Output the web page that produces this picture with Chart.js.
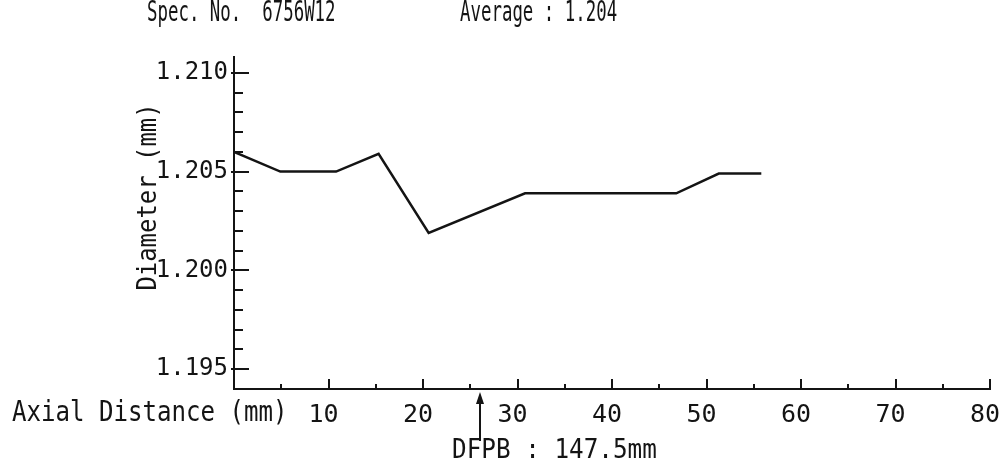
<!DOCTYPE html>
<html><head><meta charset="utf-8">
<script src="https://cdn.jsdelivr.net/npm/chart.js@4.4.1/dist/chart.umd.min.js"></script>
<style>html,body{margin:0;padding:0;background:#fff;}#wrap{position:relative;width:1001px;height:470px;}</style>
</head><body><div id="wrap"><canvas id="c" width="1001" height="470"></canvas></div>
<script>
// ---- data ----
const axialDistance = [0, 4.9, 10.8, 15.3, 20.6, 30.8, 46.8, 51.3, 55.8];
const diameter = [1.2060, 1.2050, 1.2050, 1.2059, 1.2019, 1.2039, 1.2039, 1.2049, 1.2049];
const xTickValues = [0, 5, 10, 15, 20, 25, 30, 35, 40, 45, 50, 55, 60, 65, 70, 75, 80];
const xTickLabels = ['', '', '10', '', '20', '', '30', '', '40', '', '50', '', '60', '', '70', '', '80'];
const yTickValues = [1.195, 1.196, 1.197, 1.198, 1.199, 1.200, 1.201, 1.202, 1.203, 1.204, 1.205, 1.206, 1.207, 1.208, 1.209, 1.210];
const yTickLabels = ['1.195', '', '', '', '', '1.200', '', '', '', '', '1.205', '', '', '', '', '1.210'];
const specText = 'Spec. No.  6756W12';
const averageText = 'Average : 1.204';
const xAxisText = 'Axial Distance (mm)';
const yAxisText = 'Diameter (mm)';
const dfpbText = 'DFPB : 147.5mm';
const dfpbMarker = [26];

const FONT = '"DejaVu Sans Mono", "Liberation Mono", monospace';
const INK = '#141414';

function txt(ctx, s, x, y, size, sx, align) {
  ctx.save();
  ctx.translate(x, y);
  ctx.scale(sx, 1);
  ctx.font = size + 'px ' + FONT;
  ctx.fillStyle = INK;
  ctx.textBaseline = 'middle';
  ctx.textAlign = align || 'left';
  ctx.fillText(s, 0, 0);
  ctx.restore();
}

const decor = {
  id: 'decor',
  afterDraw(chart) {
    const ctx = chart.ctx;
    const xs = chart.scales.x, ys = chart.scales.y;
    const ax = xs.getPixelForValue(0);
    const ay = ys.bottom;
    ctx.save();
    ctx.strokeStyle = INK;
    ctx.lineWidth = 2;
    // y tick marks (inside)
    ys.ticks.forEach((t, i) => {
      const py = Math.round(ys.getPixelForValue(t.value));
      const len = yTickLabels[i] ? 15 : 9;
      ctx.beginPath(); ctx.moveTo(ax - (yTickLabels[i] ? 3 : 0), py); ctx.lineTo(ax + len, py); ctx.stroke();
    });
    // x tick marks (inside)
    xs.ticks.forEach((t, i) => {
      if (t.value === 0) return;
      const px = Math.round(xs.getPixelForValue(t.value));
      const len = xTickLabels[i] ? 10 : 5;
      ctx.beginPath(); ctx.moveTo(px, ay); ctx.lineTo(px, ay - len); ctx.stroke();
    });
    // DFPB arrow
    const mx = Math.round(xs.getPixelForValue(dfpbMarker[0]));
    ctx.lineWidth = 2;
    ctx.beginPath(); ctx.moveTo(mx, 400); ctx.lineTo(mx, 441); ctx.stroke();
    ctx.fillStyle = INK;
    ctx.beginPath(); ctx.moveTo(mx, 392); ctx.lineTo(mx - 4, 404); ctx.lineTo(mx + 4, 404); ctx.closePath(); ctx.fill();
    ctx.restore();

    // texts
    txt(ctx, specText, 147, 13, 29, 0.6);
    txt(ctx, averageText, 460, 13, 29, 0.6);
    txt(ctx, xAxisText, 12, 414, 28, 0.86);
    txt(ctx, dfpbText, 452, 451, 27, 0.9);
    ctx.save();
    ctx.translate(149, 197);
    ctx.rotate(-Math.PI / 2);
    ctx.scale(0.92, 1);
    ctx.font = '26px ' + FONT;
    ctx.fillStyle = INK;
    ctx.textAlign = 'center';
    ctx.textBaseline = 'middle';
    ctx.fillText(yAxisText, 0, 0);
    ctx.restore();
  }
};

const points = axialDistance.map((x, i) => ({ x: x, y: diameter[i] }));

new Chart(document.getElementById('c'), {
  type: 'line',
  data: {
    datasets: [{
      data: points,
      borderColor: INK,
      borderWidth: 2.5,
      pointRadius: 0,
      tension: 0,
      fill: false
    }]
  },
  options: {
    responsive: false,
    animation: false,
    devicePixelRatio: 1,
    layout: { padding: { left: 0, right: 11, top: 57, bottom: 0 } },
    plugins: { legend: { display: false }, tooltip: { enabled: false }, title: { display: false } },
    scales: {
      x: {
        type: 'linear', position: 'bottom', min: 0, max: 80,
        afterBuildTicks: s => { s.ticks = xTickValues.map(v => ({ value: v })); },
        afterFit: s => { s.height = 81; s.paddingLeft = 0; s.paddingRight = 0; },
        ticks: {
          autoSkip: false, maxRotation: 0, padding: 11, color: INK, labelOffset: -5,
          font: { family: FONT, size: 25 },
          callback: (v) => { const i = xTickValues.indexOf(v); return i >= 0 ? xTickLabels[i] : ''; }
        },
        grid: { display: true, drawOnChartArea: false, drawTicks: false },
        border: { display: true, color: INK, width: 2 }
      },
      y: {
        type: 'linear', position: 'left', min: 1.194, max: 1.2108,
        afterBuildTicks: s => { s.ticks = yTickValues.map(v => ({ value: v })); },
        afterFit: s => { s.width = 234; s.paddingTop = 0; s.paddingBottom = 0; },
        ticks: {
          autoSkip: false, padding: 6, color: INK,
          font: { family: FONT, size: 24 },
          callback: (v) => { const i = yTickValues.findIndex(t => Math.abs(t - v) < 1e-7); return i >= 0 ? yTickLabels[i] : ''; }
        },
        grid: { display: true, drawOnChartArea: false, drawTicks: false },
        border: { display: true, color: INK, width: 2 }
      }
    }
  },
  plugins: [decor]
});
</script>
</body></html>
